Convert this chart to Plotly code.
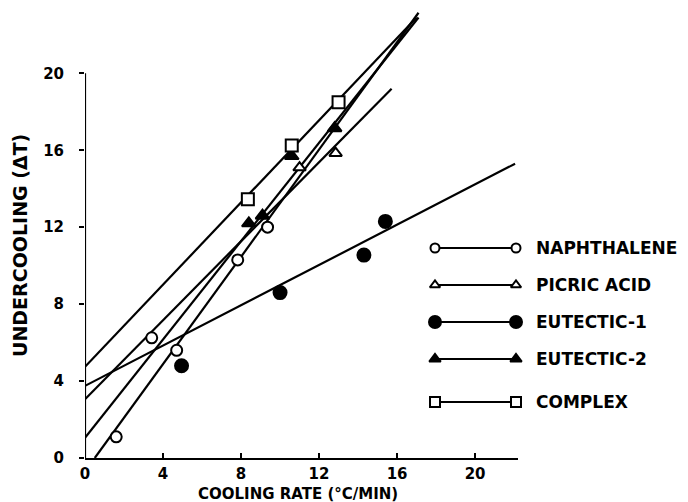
import plotly.graph_objects as go

# ---------------- data ----------------
series_names = ["NAPHTHALENE", "PICRIC ACID", "EUTECTIC-1", "EUTECTIC-2", "COMPLEX"]

naph_x = [1.6, 3.42, 4.7, 7.83, 9.36]
naph_y = [1.1, 6.25, 5.6, 10.3, 12.0]

picric_x = [11.0, 12.85]
picric_y = [15.1, 15.85]

eut1_x = [4.95, 10.0, 14.3, 15.4]
eut1_y = [4.8, 8.6, 10.55, 12.3]

eut2_x = [8.4, 9.1, 10.6, 12.8]
eut2_y = [12.2, 12.6, 15.7, 17.15]

complex_x = [8.35, 10.6, 13.0]
complex_y = [13.45, 16.25, 18.5]

# fitted straight lines: [start, end]
naph_fit_x = [0.5, 17.1]
naph_fit_y = [0.0, 23.15]
picric_fit_x = [0.0, 15.72]
picric_fit_y = [3.05, 19.2]
eut1_fit_x = [0.0, 22.05]
eut1_fit_y = [3.75, 15.3]
eut2_fit_x = [0.0, 17.1]
eut2_fit_y = [1.05, 22.9]
complex_fit_x = [0.0, 17.0]
complex_fit_y = [4.74, 22.9]

x_ticks = [0, 4, 8, 12, 16, 20]
y_ticks = [0, 4, 8, 12, 16, 20]

# ---------------- styles ----------------
W, H = 688, 502
X0PX, X1PX = 85, 518      # plot area pixels
YBOT, YTOP = 458, 6
XMAX = 22.2
YMAX = 23.5

styles = {
    "NAPHTHALENE": dict(symbol="circle", color="white", size=11),
    "PICRIC ACID": dict(symbol="triangle-up", color="white", size=11),
    "EUTECTIC-1": dict(symbol="circle", color="black", size=13),
    "EUTECTIC-2": dict(symbol="triangle-up", color="black", size=12),
    "COMPLEX": dict(symbol="square", color="white", size=12),
}
legend_styles = {
    "NAPHTHALENE": dict(symbol="circle", color="white", size=9),
    "PICRIC ACID": dict(symbol="triangle-up", color="white", size=9),
    "EUTECTIC-1": dict(symbol="circle", color="black", size=12),
    "EUTECTIC-2": dict(symbol="triangle-up", color="black", size=10),
    "COMPLEX": dict(symbol="square", color="white", size=10),
}

points = {
    "NAPHTHALENE": (naph_x, naph_y),
    "PICRIC ACID": (picric_x, picric_y),
    "EUTECTIC-1": (eut1_x, eut1_y),
    "EUTECTIC-2": (eut2_x, eut2_y),
    "COMPLEX": (complex_x, complex_y),
}
fits = {
    "NAPHTHALENE": (naph_fit_x, naph_fit_y),
    "PICRIC ACID": (picric_fit_x, picric_fit_y),
    "EUTECTIC-1": (eut1_fit_x, eut1_fit_y),
    "EUTECTIC-2": (eut2_fit_x, eut2_fit_y),
    "COMPLEX": (complex_fit_x, complex_fit_y),
}

fig = go.Figure()
LW = 2.2
for name in series_names:
    fx, fy = fits[name]
    fig.add_trace(go.Scatter(x=fx, y=fy, mode="lines",
                             line=dict(color="black", width=LW),
                             showlegend=False, hoverinfo="skip"))
for name in series_names:
    px_, py_ = points[name]
    st = styles[name]
    fig.add_trace(go.Scatter(x=px_, y=py_, mode="markers", name=name,
                             marker=dict(symbol=st["symbol"], color=st["color"], size=st["size"],
                                         line=dict(color="black", width=2)),
                             showlegend=False))

# custom legend drawn on an overlay axis in pixel units
leg_rows = [248, 285, 322, 359, 402]
FONT = "DejaVu Sans"
for name, ry in zip(series_names, leg_rows):
    st = legend_styles[name]
    fig.add_trace(go.Scatter(x=[435, 516], y=[ry, ry], mode="lines+markers",
                             xaxis="x2", yaxis="y2",
                             line=dict(color="black", width=1.8),
                             marker=dict(symbol=st["symbol"], color=st["color"], size=st["size"],
                                         line=dict(color="black", width=2)),
                             showlegend=False, hoverinfo="skip"))
    fig.add_annotation(x=534 / W, y=1 - ry / H, xref="paper", yref="paper",
                       text=name, showarrow=False, xanchor="left", yanchor="middle",
                       font=dict(family=FONT, size=17, color="black", weight="bold"))

# axis titles
fig.add_annotation(x=298 / W, y=1 - 494 / H, xref="paper", yref="paper",
                   text="COOLING RATE (°C/MIN)", showarrow=False,
                   xanchor="center", yanchor="middle",
                   font=dict(family=FONT, size=15, color="black", weight="bold"))
fig.add_annotation(x=20 / W, y=1 - 246 / H, xref="paper", yref="paper",
                   text="UNDERCOOLING (ΔT)", showarrow=False, textangle=-90,
                   xanchor="center", yanchor="middle",
                   font=dict(family=FONT, size=19, color="black", weight="bold"))

# y axis line only up to 20
fig.add_shape(type="line", xref="x", yref="y", x0=0, x1=0, y0=0, y1=y_ticks[-1],
              line=dict(color="black", width=2.2))

tickfont = dict(family=FONT, size=15, color="black", weight="bold")
fig.update_layout(
    width=W, height=H,
    margin=dict(l=0, r=0, t=0, b=0, autoexpand=False),
    paper_bgcolor="white", plot_bgcolor="rgba(0,0,0,0)",
    showlegend=False,
    xaxis=dict(domain=[X0PX / W, X1PX / W], range=[0, XMAX], automargin=False,
               tickmode="array", tickvals=x_ticks, ticktext=[str(v) for v in x_ticks],
               ticks="inside", ticklen=5, tickwidth=2, tickcolor="black",
               showline=True, linecolor="black", linewidth=2.2,
               showgrid=False, zeroline=False, tickfont=tickfont,
               ticklabelstandoff=1, anchor="y"),
    yaxis=dict(domain=[1 - YBOT / H, 1 - YTOP / H], range=[0, YMAX], automargin=False,
               tickmode="array", tickvals=y_ticks, ticktext=[str(v) for v in y_ticks],
               ticks="outside", ticklen=5, tickwidth=2, tickcolor="black",
               showline=False, showgrid=False, zeroline=False, tickfont=tickfont,
               ticklabelstandoff=12, anchor="x"),
    xaxis2=dict(domain=[0, 1], range=[0, W], visible=False, anchor="y2",
                fixedrange=True, automargin=False),
    yaxis2=dict(domain=[0, 1], range=[H, 0], visible=False, anchor="x2",
                fixedrange=True, automargin=False),
)

fig.write_html("out.html")
